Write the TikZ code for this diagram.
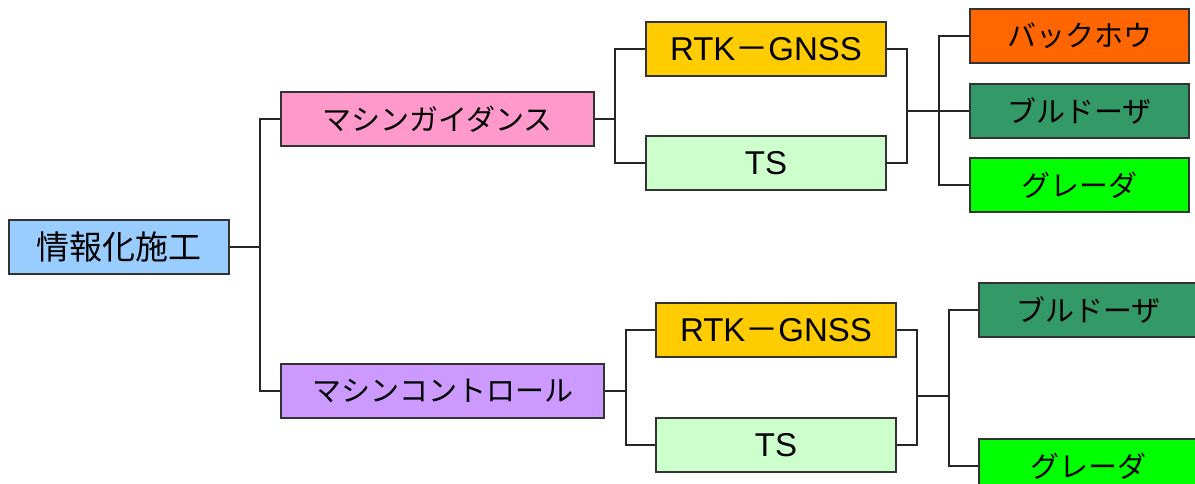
\documentclass[tikz,border=0pt]{standalone}
\usepackage{fontspec}
\setmainfont{Liberation Sans}
\newfontfamily\jp{Noto Sans CJK JP}
\definecolor{cRoot}{HTML}{99CCFF}
\definecolor{cMG}{HTML}{FF99CC}
\definecolor{cMC}{HTML}{CC99FF}
\definecolor{cRTK}{HTML}{FFCC00}
\definecolor{cTS}{HTML}{CCFFCC}
\definecolor{cBH}{HTML}{FF6600}
\definecolor{cBD}{HTML}{339966}
\definecolor{cGR}{HTML}{00FF00}
\begin{document}
\begin{tikzpicture}[x=1pt,y=-1pt,
  box/.style={draw=black!80, line width=1.3pt, inner sep=0pt, minimum height=54pt, text=black, align=center},
  jpt/.style={font=\jp\fontsize{29}{32}\selectfont},
  lat/.style={font=\fontsize{33}{36}\selectfont},
  conn/.style={draw=black!85, line width=1.2pt}]
\clip (0,0) rectangle (1195,484);
\useasboundingbox (0,0) rectangle (1195,484);
% nodes
\node[box, fill=cRoot, minimum width=220pt, font=\jp\fontsize{33}{36}\selectfont] (root) at (119,247) {情報化施工};
\node[box, fill=cMG, minimum width=313pt, jpt] (mg) at (437.5,119) {マシンガイダンス};
\node[box, fill=cMC, minimum width=323pt, jpt] (mc) at (442.5,391) {マシンコントロール};
\node[box, fill=cRTK, minimum width=240pt, lat] (rtk1) at (766,49) {RTK{\jp －}GNSS};
\node[box, fill=cTS, minimum width=240pt, lat] (ts1) at (766,163) {TS};
\node[box, fill=cBH, minimum width=219pt, jpt] (bh) at (1079.5,36) {バックホウ};
\node[box, fill=cBD, minimum width=219pt, jpt] (bd1) at (1079.5,111) {ブルドーザ};
\node[box, fill=cGR, minimum width=219pt, jpt] (gr1) at (1079.5,185) {グレーダ};
\node[box, fill=cRTK, minimum width=240pt, lat] (rtk2) at (776,330) {RTK{\jp －}GNSS};
\node[box, fill=cTS, minimum width=240pt, lat] (ts2) at (776,445) {TS};
\node[box, fill=cBD, minimum width=219pt, jpt] (bd2) at (1088.5,310) {ブルドーザ};
\node[box, fill=cGR, minimum width=219pt, jpt] (gr2) at (1088.5,466) {グレーダ};
% junctions
\coordinate (t0) at (260,247);
\coordinate (t1) at (615,119);
\coordinate (t2) at (907,111);
\coordinate (t3) at (939,111);
\coordinate (b1) at (626,391);
\coordinate (b2) at (917,396);
\coordinate (b3) at (949,396);
% connectors
\draw[conn] (root.east) -- (t0);
\draw[conn] (mg.west) -| (t0) |- (mc.west);
\draw[conn] (mg.east) -- (t1);
\draw[conn] (rtk1.west) -| (t1) |- (ts1.west);
\draw[conn] (rtk1.east) -| (t2) |- (ts1.east);
\draw[conn] (t2) -- (bd1.west);
\draw[conn] (bh.west) -| (t3) |- (gr1.west);
\draw[conn] (mc.east) -- (b1);
\draw[conn] (rtk2.west) -| (b1) |- (ts2.west);
\draw[conn] (rtk2.east) -| (b2) |- (ts2.east);
\draw[conn] (b2) -- (b3);
\draw[conn] (bd2.west) -| (b3) |- (gr2.west);
\end{tikzpicture}
\end{document}
